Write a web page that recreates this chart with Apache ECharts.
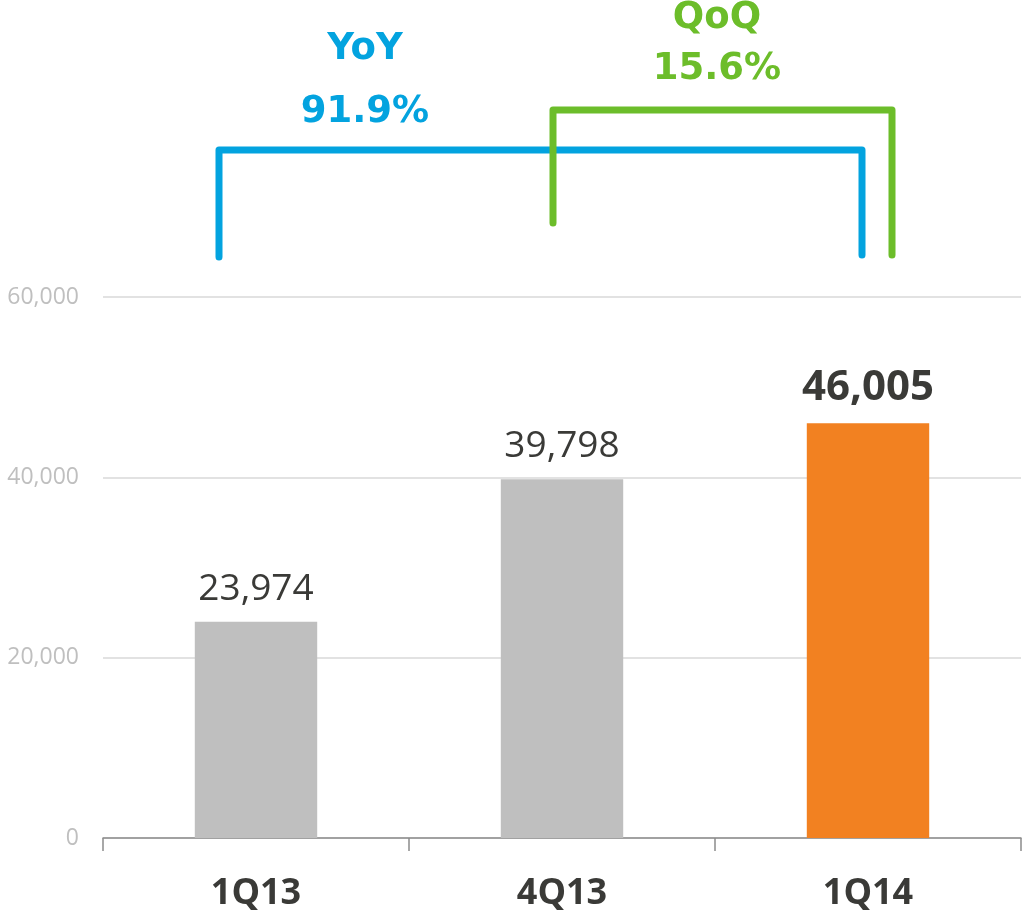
<!DOCTYPE html>
<html>
<head>
<meta charset="utf-8">
<script src="https://cdn.jsdelivr.net/npm/echarts@6/dist/echarts.min.js"></script>
<style>
  html, body { margin: 0; padding: 0; background: #fff; }
  #chart { width: 1023px; height: 912px; }
</style>
</head>
<body>
<div id="chart"></div>
<script>
var categories = ['1Q13', '4Q13', '1Q14'];
var values = [23974, 39798, 46005];
var barColors = ['#bfbfbf', '#bfbfbf', '#f28121'];
var yTicks = [0, 20000, 40000, 60000];
var yoyText = ['YoY', '91.9%'];
var qoqText = ['QoQ', '15.6%'];

var dom = document.getElementById('chart');
var myChart = echarts.init(dom);
var textDark = '#3a3a37';
var blue = '#03a3df';
var green = '#6cbd2a';

var option = {
    animation: false,
    grid: { left: 103, right: 2, top: 297, bottom: 72 },
    xAxis: {
        type: 'category',
        data: categories,
        axisLine: { lineStyle: { color: '#8c8c8c', width: 1.5 } },
        axisTick: { show: true, alignWithLabel: false, length: 13, lineStyle: { color: '#8c8c8c', width: 1.5 } },
        axisLabel: {
            margin: 38,
            fontFamily: 'Open Sans',
            fontWeight: 'bold',
            fontSize: 36,
            color: textDark
        }
    },
    yAxis: {
        type: 'value',
        min: yTicks[0],
        max: yTicks[yTicks.length - 1],
        interval: yTicks[1] - yTicks[0],
        axisLine: { show: false },
        axisTick: { show: false },
        splitLine: { lineStyle: { color: '#d9d9d9', width: 1.5 } },
        axisLabel: {
            margin: 24,
            fontFamily: 'Open Sans',
            fontSize: 23,
            color: '#bfbfbf',
            formatter: function (v) { return v.toLocaleString('en-US'); }
        }
    },
    series: [{
        type: 'bar',
        barWidth: '40%',
        data: values.map(function (v, i) {
            var last = i === values.length - 1;
            return {
                value: v,
                itemStyle: { color: barColors[i] },
                label: {
                    fontWeight: last ? 'bold' : 'normal',
                    fontSize: last ? 42 : 37
                }
            };
        }),
        label: {
            show: true,
            position: 'top',
            distance: 14,
            fontFamily: 'Open Sans',
            color: textDark,
            formatter: function (p) { return p.value.toLocaleString('en-US'); }
        }
    }]
};
myChart.setOption(option, true);

// brackets above the bars, anchored on the category centres
var cx = categories.map(function (c) { return myChart.convertToPixel({ xAxisIndex: 0 }, c); });
function bracket(x1, y1, x2, y2, yTop, color) {
    return {
        type: 'polyline',
        shape: { points: [[x1, y1], [x1, yTop], [x2, yTop], [x2, y2]] },
        style: { stroke: color, lineWidth: 7, fill: null, lineCap: 'round', lineJoin: 'round' },
        z: 10
    };
}
function label(x, y, text, color) {
    return {
        type: 'text',
        x: x, y: y,
        style: {
            text: text, fill: color,
            font: 'bold 37px "DejaVu Sans"',
            align: 'center', verticalAlign: 'middle'
        },
        z: 10
    };
}
var yoyX = cx[0] + 109;
var qoqX = cx[1] + 155;
myChart.setOption({
    graphic: [
        bracket(cx[0] - 37, 257, cx[2] - 6, 255, 150, blue),
        bracket(cx[1] - 9, 223, cx[2] + 24, 255, 110, green),
        label(yoyX, 49, yoyText[0], blue),
        label(yoyX, 112, yoyText[1], blue),
        label(qoqX, 18, qoqText[0], green),
        label(qoqX, 69, qoqText[1], green)
    ]
});
</script>
</body>
</html>
